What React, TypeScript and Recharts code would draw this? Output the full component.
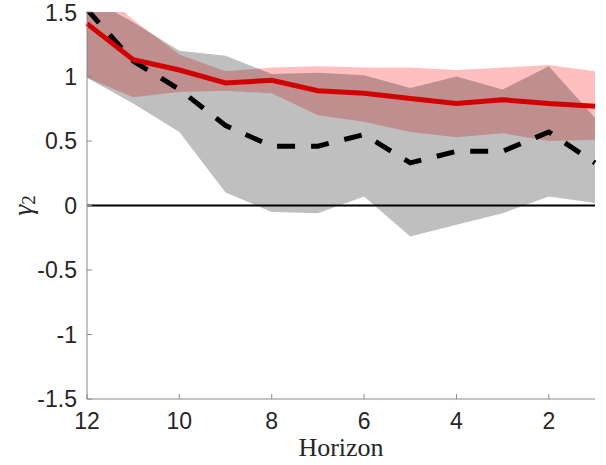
import React from 'react';
import { ComposedChart, Line, Area, XAxis, YAxis, ReferenceLine } from 'recharts';

// horizon runs from 12 down to 1
const horizon = [12, 11, 10, 9, 8, 7, 6, 5, 4, 3, 2, 1];
const redLine = [1.41, 1.13, 1.05, 0.95, 0.97, 0.89, 0.87, 0.83, 0.79, 0.82, 0.79, 0.77];
const blackLine = [1.52, 1.12, 0.9, 0.62, 0.46, 0.46, 0.55, 0.33, 0.42, 0.42, 0.57, 0.33];
const redUpper = [1.75, 1.44, 1.17, 1.04, 1.07, 1.08, 1.07, 1.07, 1.05, 1.07, 1.09, 1.04];
const redLower = [0.99, 0.84, 0.88, 0.89, 0.87, 0.7, 0.65, 0.57, 0.53, 0.56, 0.5, 0.51];
const grayUpper = [1.62, 1.42, 1.2, 1.16, 1.02, 1.03, 1.01, 0.91, 1.0, 0.9, 1.08, 0.68];
const grayLower = [0.99, 0.79, 0.57, 0.1, -0.05, -0.06, 0.07, -0.24, -0.15, -0.06, 0.07, 0.02];

const xTicks = [2, 4, 6, 8, 10, 12];
const yTicks = [-1.5, -1, -0.5, 0, 0.5, 1, 1.5];

const data = horizon.map((h, i) => ({
  h,
  red: redLine[i],
  black: blackLine[i],
  redBand: [redLower[i], redUpper[i]],
  grayBand: [grayLower[i], grayUpper[i]],
}));

const tickStyle = { fill: '#262626', fontSize: 23, fontFamily: 'Liberation Sans, Arial, sans-serif' };

const GammaLabel = (props: any) => {
  const vb = props.viewBox || { y: 12, height: 387 };
  const x = 22;
  const y = vb.y + vb.height / 2;
  return (
    <text
      x={x}
      y={y}
      transform={`rotate(-90 ${x} ${y})`}
      textAnchor="middle"
      dominantBaseline="central"
      fill="#262626"
      fontFamily="Liberation Serif, serif"
      fontStyle="italic"
      fontSize={28}
    >
      γ<tspan fontStyle="normal" fontSize={19} dy={6}>2</tspan>
    </text>
  );
};

export default function App() {
  return (
    <div style={{ position: 'absolute', left: 0, top: 0, background: '#fff' }}>
      <ComposedChart width={606} height={465} data={data} margin={{ top: 12, right: 11, bottom: 0, left: 0 }}>
        <XAxis
          dataKey="h"
          type="number"
          domain={[1, 12]}
          reversed
          ticks={xTicks}
          height={66}
          stroke="#8a8a8a"
          tickSize={-5}
          tickMargin={19}
          tick={tickStyle}
          label={{
            value: 'Horizon',
            position: 'insideBottom',
            offset: 9,
            fill: '#262626',
            fontSize: 26,
            fontFamily: 'Liberation Serif, serif',
          }}
        />
        <YAxis
          type="number"
          domain={[-1.5, 1.5]}
          ticks={yTicks}
          allowDataOverflow
          width={87}
          stroke="#8a8a8a"
          tickSize={-5}
          tickMargin={15}
          tick={tickStyle}
          label={<GammaLabel />}
        />
        <Line dataKey="black" stroke="#000" strokeWidth={5} strokeDasharray="18 16" dot={false} isAnimationActive={false} />
        <Area dataKey="redBand" stroke="none" fill="#ff0000" fillOpacity={0.25} isAnimationActive={false} />
        <Area dataKey="grayBand" stroke="none" fill="#000" fillOpacity={0.25} isAnimationActive={false} />
        <ReferenceLine y={0} stroke="#000" strokeWidth={2} />
        <Line dataKey="red" stroke="#d20000" strokeWidth={5} dot={false} isAnimationActive={false} />
      </ComposedChart>
    </div>
  );
}
